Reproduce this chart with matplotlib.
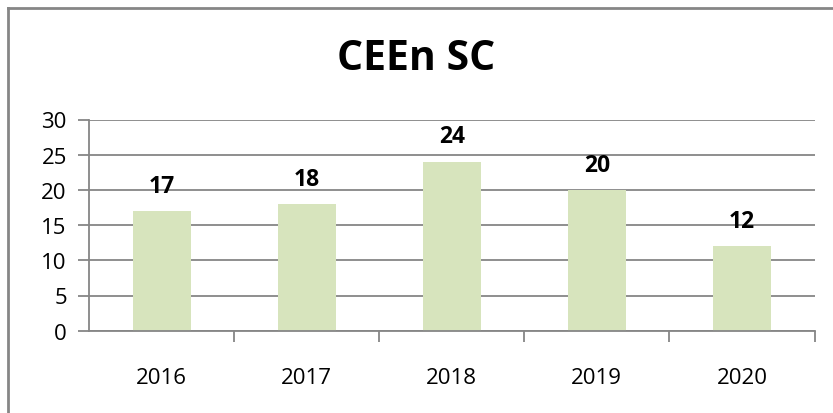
import matplotlib.pyplot as plt
from matplotlib.lines import Line2D

years = ['2016', '2017', '2018', '2019', '2020']
counts = [17, 18, 24, 20, 12]
yticks = [0, 5, 10, 15, 20, 25, 30]

plt.rcParams['font.family'] = ['Open Sans', 'DejaVu Sans']

fig = plt.figure(figsize=(8.33, 4.14), dpi=100)
ax = fig.add_axes([89 / 833, 1 - 331.7 / 414, (814.5 - 89) / 833, (331.7 - 120.5) / 414])

x = range(len(years))
bars = ax.bar(x, counts, width=0.4, color='#d7e4bd', zorder=2)
for xi, v in zip(x, counts):
    ax.text(xi, v + 2.75, str(v), ha='center', va='baseline', fontsize=16.5,
            fontweight='bold')

ax.set_xlim(-0.5, len(years) - 0.5)
ax.set_ylim(0, 30)
ax.set_yticks(yticks)
ax.set_yticklabels([str(t) for t in yticks], fontsize=16)
ax.yaxis.grid(True, color='#868686', lw=1.3, zorder=0)
ax.set_axisbelow(True)

ax.set_xticks([i + 0.5 for i in range(len(years) - 1)] + [len(years) - 0.5], minor=False)
ax.set_xticklabels([])
ax.set_xticks(list(x), minor=True)
ax.set_xticklabels(years, minor=True, fontsize=16)
ax.tick_params(axis='x', which='major', length=8, width=1.3, color='#868686', direction='out')
ax.tick_params(axis='x', which='minor', length=0, pad=26)
ax.tick_params(axis='y', length=8, width=1.3, color='#868686', pad=8)

for s in ['top', 'right']:
    ax.spines[s].set_visible(False)
for s in ['left', 'bottom']:
    ax.spines[s].set_color('#868686')
    ax.spines[s].set_linewidth(1.3)

fig.text(0.5, 1 - 59 / 414, 'CEEn SC', ha='center', va='center', fontsize=29.5,
         fontweight='bold')

# outer chart border (top and left only visible)
fig.add_artist(Line2D([8 / 833, 8 / 833], [0, 1 - 8.5 / 414], color='#868686', lw=2,
                      transform=fig.transFigure))
fig.add_artist(Line2D([8 / 833, 1], [1 - 8.5 / 414, 1 - 8.5 / 414], color='#868686', lw=2,
                      transform=fig.transFigure))

fig.savefig('out.png', dpi=100)
